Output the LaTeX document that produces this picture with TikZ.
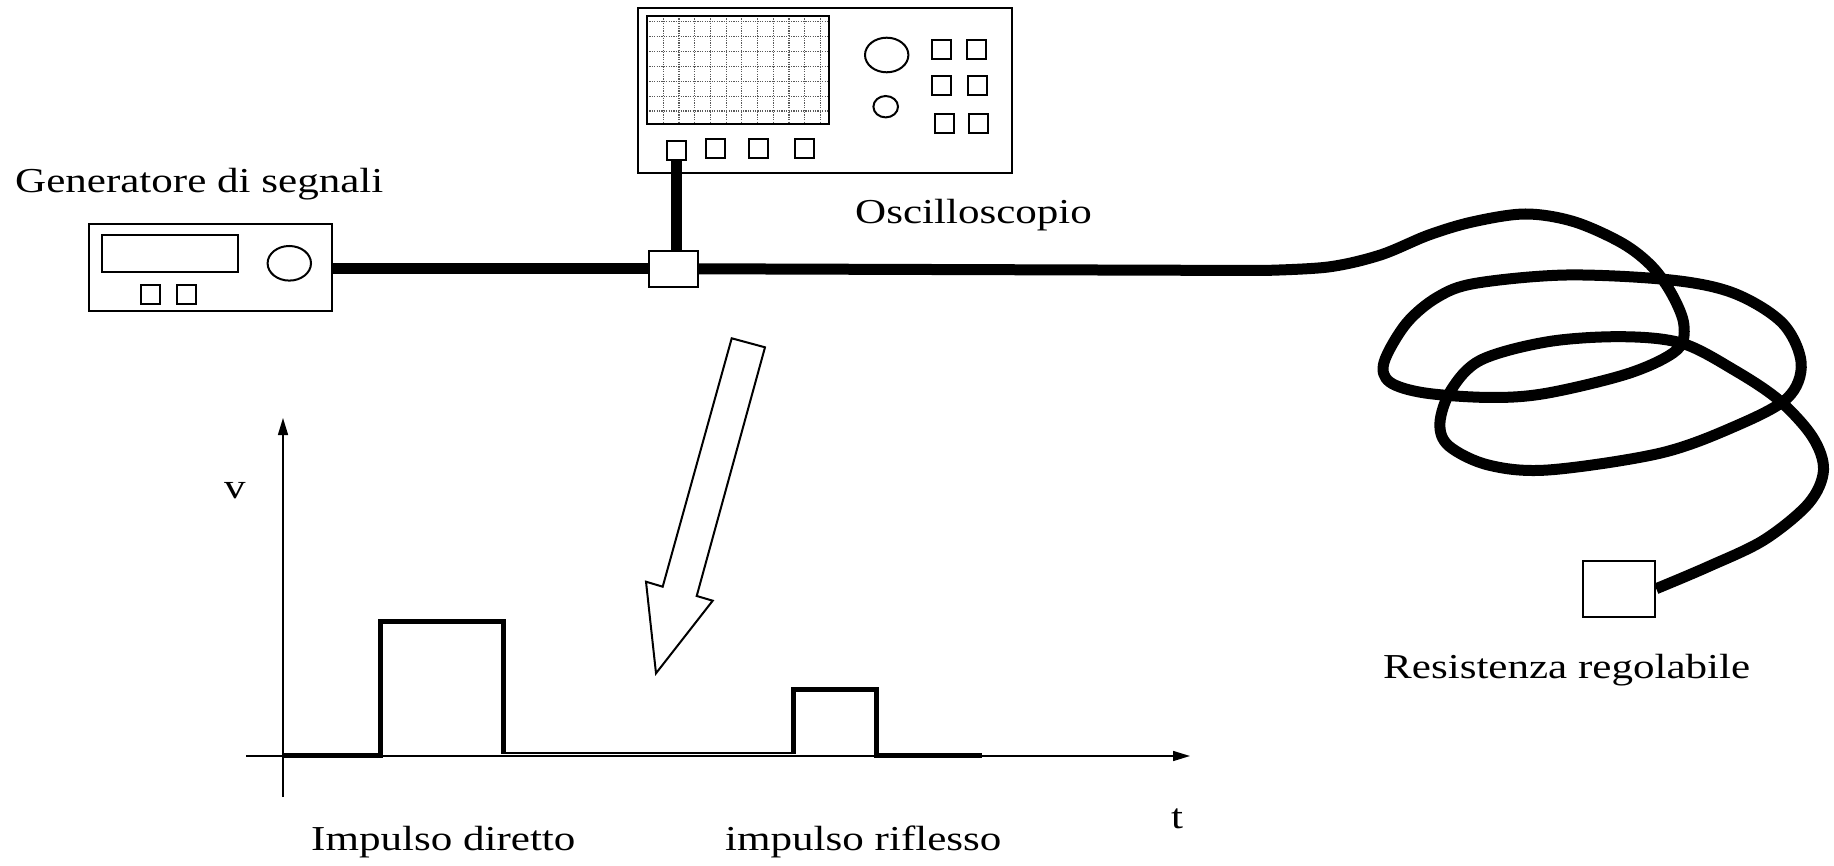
\documentclass[tikz,border=0pt]{standalone}
\usepackage{fontspec}
\setmainfont{Liberation Serif}
\usepackage{graphicx}
\usetikzlibrary{arrows.meta}
% labels are set slightly widened
\newcommand{\wtext}[1]{\scalebox{1.23}[1]{#1}}

\begin{document}
\begin{tikzpicture}[x=1pt,y=-1pt,
  outline/.style={draw, line width=2pt},
  box/.style={outline, rectangle, inner sep=0pt, fill=white},
  btn/.style={box, minimum size=19pt},
  griddot/.style={black!65, line width=1.2pt, dash pattern=on 1.2pt off 1.2pt},
  cable/.style={line width=11pt},
  thinaxis/.style={line width=1.5pt, -{Triangle[length=17pt,width=10pt]}},
  pulse/.style={line width=5pt},
  baseline/.style={line width=2.5pt},
  label/.style={inner sep=0pt, font=\fontsize{35}{42}\selectfont},
  bigarrow/.style={draw, line width=2pt, line join=miter, fill=white}]

\useasboundingbox (0,0) rectangle (1834,866);

% ---------- oscilloscope ----------
\node[box, minimum width=374pt, minimum height=165pt] (scope) at (825,90.5) {};
\foreach \gx in {663.3,679.0,694.7,710.4,726.1,741.8,757.5,773.2,788.9,804.6,820.3}
  \draw[griddot] (\gx,16) -- (\gx,124);
\foreach \gy in {21.7,36.6,51.5,66.4,81.3,96.2,111.1}
  \draw[griddot] (647,\gy) -- (829,\gy);
\draw[outline] (647,16) rectangle (829,124);
\draw[outline] (886.7,55) ellipse [x radius=21.7, y radius=17.3];
\draw[outline] (885.7,106.7) ellipse [x radius=12.3, y radius=10.7];
\node[btn] (k1) at (941.2,50) {};
\node[btn] (k2) at (976.7,50) {};
\node[btn] (k3) at (941.8,85.2) {};
\node[btn] (k4) at (977.2,85.2) {};
\node[btn] (k5) at (944.5,123.5) {};
\node[btn] (k6) at (978.2,123.5) {};
\node[btn] (port) at (676.3,150.3) {};
\node[btn] (b2) at (715.3,149) {};
\node[btn] (b3) at (758.3,149) {};
\node[btn] (b4) at (804.5,149) {};
\node[label, anchor=base west] (scopelbl) at (855,223.3) {\wtext{Oscilloscopio}};

% ---------- signal generator ----------
\node[box, minimum width=243.3pt, minimum height=86.7pt] (gen) at (210.7,267.3) {};
\draw[outline] (102.3,235) rectangle (238.3,272.3);
\draw[outline] (289.3,263.3) ellipse [x radius=21.7, y radius=17.3];
\node[btn] (g1) at (150.5,294.5) {};
\node[btn] (g2) at (186.2,294.5) {};
\node[label, anchor=base west] (genlbl) at (15,192.7) {\wtext{Generatore di segnali}};

% ---------- T connector and load ----------
\node[box, minimum width=48.4pt, minimum height=35.7pt] (tee) at (673.5,268.8) {};
\node[box, minimum width=72.6pt, minimum height=56pt] (load) at (1618.9,588.7) {};
\node[label, anchor=base west] (loadlbl) at (1383,678.3) {\wtext{Resistenza regolabile}};

% ---------- cables ----------
\draw[cable] (gen.east |- tee.west) -- (tee.west);
\draw[cable] (port.south) -- (port.south |- tee.north);
\draw[cable, line join=round] (tee.east) -- plot[smooth, tension=0.55] coordinates {
  (1263,270.5) (1328.2,267) (1380.4,255) (1428.8,235) (1473.5,221.7) (1525.6,214)
  (1574,221.7) (1622.4,243.3) (1652.2,266.7) (1672.3,295) (1683.9,325)
  (1676.8,350) (1629.9,373) (1548,393) (1492.1,397.5) (1425.1,393)
  (1389.7,382) (1384.1,362) (1406.4,323.3) (1437.7,297) (1475.7,283.3) (1566.5,275)
  (1670.9,280) (1734.1,293.3) (1782.6,323.3) (1801.2,363.3) (1787.4,398)
  (1734.1,426.7) (1659.7,453.3) (1548,470) (1488.3,465) (1448.9,446)
  (1439.9,423.3) (1451.1,390) (1480.9,360) (1548,341.7) (1622.4,336.7)
  (1682.1,343.3) (1734.1,370) (1778.8,400) (1812.3,436.7) (1823.5,470)
  (1808.7,503.3) (1764,540) (1708.1,566.7) (load.east)};

% ---------- hollow pointer arrow ----------
\draw[bigarrow] (731.7,338.3) -- (765,347.3) -- (696.7,596) -- (712.7,600.7)
  -- (656,673.3) -- (646,581.7) -- (662.7,586.7) -- cycle;

% ---------- v(t) plot ----------
\coordinate (ybot) at (283,797);
\coordinate (ytop) at (283,418);
\coordinate (xleft) at (246,756);
\coordinate (xright) at (1190,756);
\draw[thinaxis] (ybot) -- (ytop);
\draw[thinaxis] (xleft) -- (xright);
\draw[pulse, line join=miter] (284,755) -- (380.7,755) -- (380.7,621.7)
  -- (503,621.7) -- (503,754);
\draw[baseline] (503,753) -- (793.5,753);
\draw[pulse, line join=miter] (793.5,754) -- (793.5,689) -- (876,689)
  -- (876,755) -- (982,755);
\node[label, anchor=base] (vlbl) at (235,498) {\wtext{v}};
\node[label, anchor=base] (tlbl) at (1177,828) {\wtext{t}};
\node[label, anchor=base west] (dirlbl) at (311,850) {\wtext{Impulso diretto}};
\node[label, anchor=base west] (reflbl) at (725,850) {\wtext{impulso riflesso}};
\end{tikzpicture}
\end{document}
